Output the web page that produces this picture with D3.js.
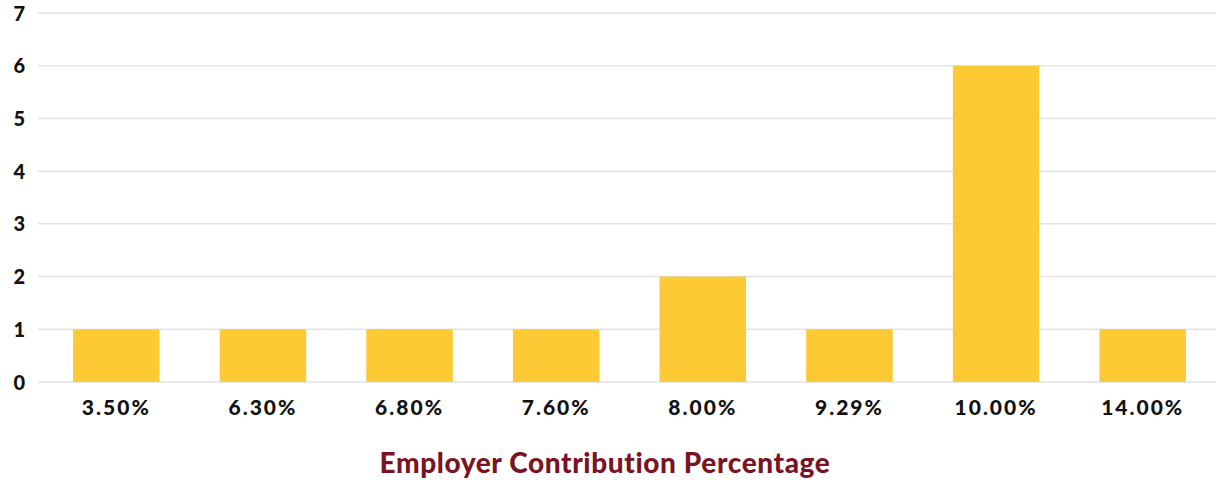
<!DOCTYPE html>
<html><head><meta charset="utf-8">
<script src="https://cdn.jsdelivr.net/npm/d3@7"></script>
<style>body{margin:0;background:#fff}svg{display:block}</style>
</head><body>
<svg id="c" width="1220" height="480"></svg>
<script>
const categories = ["3.50%","6.30%","6.80%","7.60%","8.00%","9.29%","10.00%","14.00%"];
const counts = [1,1,1,1,2,1,6,1];
const yTicks = [0,1,2,3,4,5,6,7];
const xTitle = "Employer Contribution Percentage";

const svg = d3.select("#c");
const font = "Lato, 'Open Sans', sans-serif";
const x = d3.scaleBand().domain(categories).range([43,1216]).paddingInner(0.41).paddingOuter(0.205);
const y = d3.scaleLinear().domain([0,7]).range([382,13]);

const gridG = svg.append("g");
gridG.selectAll("line").data(yTicks).join("line")
  .attr("x1",38).attr("x2",1216)
  .attr("y1",d=>y(d)).attr("y2",d=>y(d))
  .attr("stroke","#e3e3e3").attr("stroke-width",1.5);

svg.append("g").selectAll("rect").data(categories).join("rect")
  .attr("x",d=>x(d)).attr("width",x.bandwidth())
  .attr("y",(d,i)=>y(counts[i])).attr("height",(d,i)=>y(0)-y(counts[i]))
  .attr("fill","#FDCA35");

const yAxis = svg.append("g").attr("transform","translate(25,0)")
  .call(d3.axisLeft(y).tickValues(yTicks).tickSize(0).tickPadding(0).tickFormat(d3.format("d")));
yAxis.select(".domain").remove();
yAxis.selectAll("text").attr("font-family",font).attr("font-weight",900).attr("font-size",20).attr("fill","#111").attr("dy","0.35em");

const xAxis = svg.append("g").attr("transform","translate(0,382)")
  .call(d3.axisBottom(x).tickSize(0).tickPadding(18));
xAxis.select(".domain").remove();
xAxis.selectAll("text").attr("font-family",font).attr("font-weight",900).attr("font-size",21).attr("fill","#111").attr("letter-spacing","2px");

svg.append("text").attr("x",605).attr("y",473).attr("text-anchor","middle")
  .attr("font-family",font).attr("font-weight",900).attr("font-size",28).attr("fill","#7A1424")
  .attr("letter-spacing","0.6px")
  .text(xTitle);
</script>
</body></html>
